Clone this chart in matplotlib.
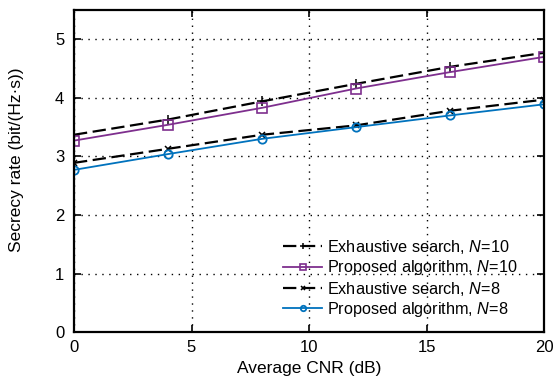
import matplotlib.pyplot as plt

plt.rcParams['font.family'] = ['Liberation Sans', 'DejaVu Sans']
plt.rcParams['mathtext.fontset'] = 'custom'
plt.rcParams['mathtext.it'] = 'Liberation Sans:italic'
plt.rcParams['mathtext.rm'] = 'Liberation Sans'

# 平均载噪比 (dB)
cnr = [0, 4, 8, 12, 16, 20]
# 保密速率
exh_10 = [3.37, 3.63, 3.94, 4.24, 4.53, 4.77]
prop_10 = [3.27, 3.54, 3.83, 4.16, 4.44, 4.70]
exh_8 = [2.89, 3.13, 3.37, 3.53, 3.78, 3.97]
prop_8 = [2.77, 3.04, 3.30, 3.50, 3.70, 3.89]

fig = plt.figure(figsize=(5.58, 3.87), dpi=100)
ax = fig.add_axes([0.1326, 0.142, 0.8424, 0.832])

ax.plot(cnr, exh_10, color='black', ls=(0, (6, 2.5)), lw=1.6, marker='+', ms=7, mew=1.1,
        label='Exhaustive search, $N$=10')
ax.plot(cnr, prop_10, color='#7E2F8E', lw=1.3, marker='s', ms=6.5, mfc='none', mew=1.2,
        label='Proposed algorithm, $N$=10')
ax.plot(cnr, exh_8, color='black', ls=(0, (6, 2.5)), lw=1.6, marker='x', ms=4, mew=1.1,
        label='Exhaustive search, $N$=8')
ax.plot(cnr, prop_8, color='#0072BD', lw=1.3, marker='o', ms=6, mfc='none', mew=1.3,
        label='Proposed algorithm, $N$=8')

ax.set_xlim(0, 20)
ax.set_ylim(0, 5.5)
ax.set_xticks([0, 5, 10, 15, 20])
ax.set_yticks([0, 1, 2, 3, 4, 5])
ax.grid(True, color='black', ls=(0, (1, 4)), lw=1.0)
ax.tick_params(direction='in', length=5, width=1.2, labelsize=12, top=True, right=True,
               labeltop=False, labelright=False)
ax.tick_params(axis='y', pad=7)
ax.tick_params(axis='x', pad=6)
for s in ax.spines.values():
    s.set_linewidth(1.6)

ax.set_xlabel('Average CNR (dB)', fontsize=12.5, labelpad=4)
ax.set_ylabel('Secrecy rate (bit/(Hz·s))', fontsize=12.5)
ax.yaxis.set_label_coords(-0.106, 0.535)

ax.legend(loc='lower left', bbox_to_anchor=(0.445, 0.04), frameon=False, fontsize=11.7,
          handlelength=2.4, handletextpad=0.3, labelspacing=0.15, borderpad=0,
          borderaxespad=0, markerscale=0.65)

fig.savefig('out.png', dpi=100)
